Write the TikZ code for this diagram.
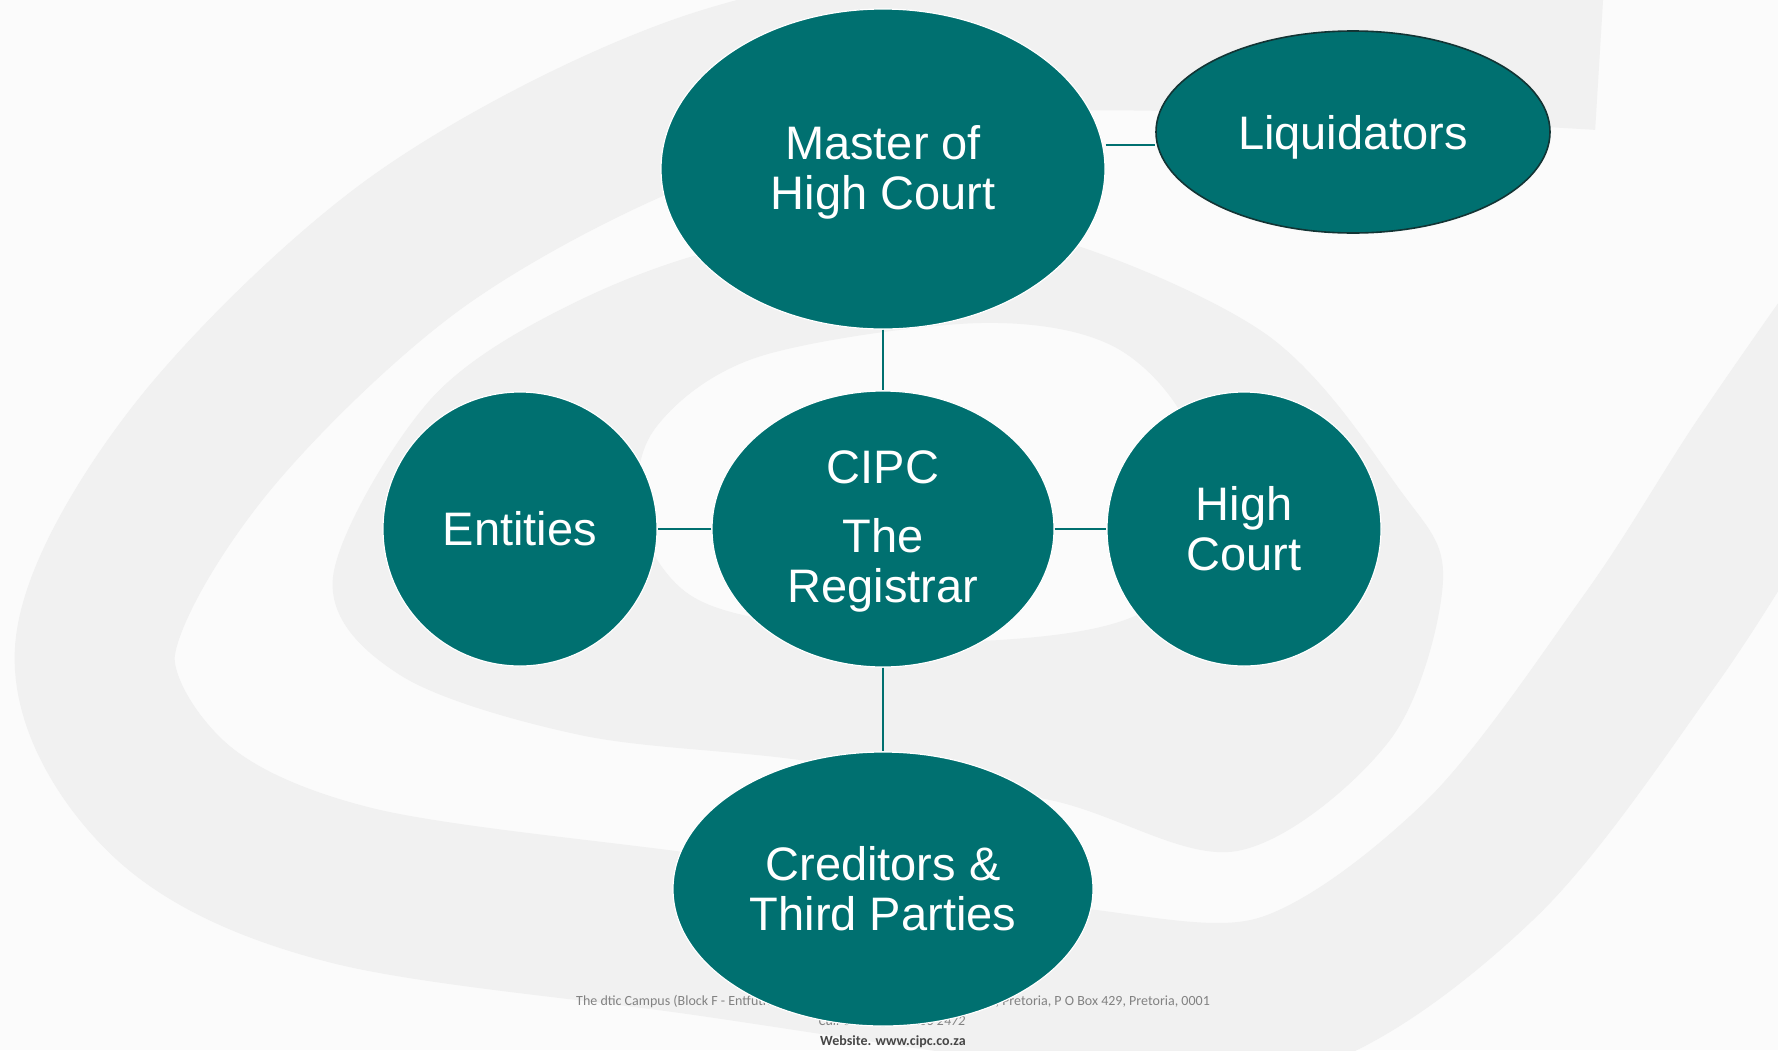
\documentclass[tikz,border=0pt]{standalone}
\usepackage{fontspec}
\setmainfont{Liberation Sans}
\newfontfamily\footfont{Carlito}
\usetikzlibrary{shapes.geometric}
\definecolor{cipcteal}{RGB}{0,112,112}
\definecolor{liqedge}{RGB}{18,52,52}
\definecolor{pagebg}{RGB}{251,251,251}
\definecolor{swirl}{RGB}{241,241,241}
\definecolor{footgray}{RGB}{130,130,130}
\definecolor{footdark}{RGB}{70,70,70}
\begin{document}
\begin{tikzpicture}[x=1pt,y=-1pt,
  bubble/.style={ellipse, fill=cipcteal, draw=white, line width=1.2pt,
    text=white, inner sep=0pt, align=center,
    font=\fontsize{47}{50}\selectfont},
  link/.style={draw=cipcteal, line width=2pt},
  swirlband/.style={draw=swirl, line width=#1},
  footline/.style={inner sep=0pt, font=\footfont\fontsize{14}{16}\selectfont}]

% page background
\fill[pagebg] (0,0) rectangle (1778,1050);
\useasboundingbox (0,0) rectangle (1778,1050);

% faint logo swirl behind the chart
\begin{scope}
  \clip (0,0) rectangle (1778,1050);
  % outer open band
  \draw[swirlband=160] plot[smooth, tension=0.55] coordinates {
    (1600,50) (1300,35) (1000,35) (700,95) (420,240) (200,450)
    (95,650) (170,800) (350,885) (700,935) (1050,985) (1280,995)
    (1480,860) (1650,640) (1760,470) (1850,340)};
  % inner band with a light core
  \fill[swirl, even odd rule]
    plot[smooth cycle, tension=0.55] coordinates {
      (333,577) (400,675) (580,735) (800,760) (1050,800) (1237,851)
      (1390,740) (1443,580) (1400,490) (1260,330) (1000,225) (760,240)
      (580,300) (430,400)}
    plot[smooth cycle, tension=0.55] coordinates {
      (654,430) (758,357) (981,323) (1120,350) (1195,450) (1160,600)
      (1000,640) (800,625) (690,595) (640,520)};
\end{scope}

% footer (partly covered by the bottom bubble)
\node[footline, text=footgray, anchor=west] (addrL) at (576,1002) {The dtic Campus (Block F - Entfutfukweni), 77 Meintjies};
\node[footline, text=footgray, anchor=east] (addrR) at (1210,1002) {Street, Sunnyside, Pretoria, P O Box 429, Pretoria, 0001};
\node[footline, text=footgray, font=\footfont\itshape\fontsize{14}{16}\selectfont] (call) at (892,1021) {Call Centre: 086 100 2472};
\node[footline, text=footdark, font=\footfont\bfseries\fontsize{14}{16}\selectfont] (web) at (893,1042) {Website. www.cipc.co.za};

% bubbles
\node[bubble, text height=91pt, minimum width=444, minimum height=320] (master) at (883,169) {Master of\\High Court};
\node[bubble, text height=44pt, text depth=10pt, draw=liqedge, line width=1.6pt, minimum width=394, minimum height=202] (liq) at (1353,132) {Liquidators};
\node[bubble, text height=156pt, minimum width=342, minimum height=276] (cipc) at (883,529) {CIPC\\[19pt]The\\Registrar};
\node[bubble, minimum width=274, minimum height=274] (ent) at (520,529) {Entities};
\node[bubble, minimum width=274, minimum height=274] (court) at (1244,529) {High\\Court};
\node[bubble, minimum width=420, minimum height=274] (cred) at (883,889) {Creditors \&\\Third Parties};

% connectors
\coordinate (mlk) at (0,145);
\draw[link] (master.east |- mlk) -- (liq.west |- mlk);
\draw[link] (master.south) -- (cipc.north);
\draw[link] (cipc.west) -- (ent.east);
\draw[link] (cipc.east) -- (court.west);
\draw[link] (cipc.south) -- (cred.north);
\end{tikzpicture}
\end{document}
